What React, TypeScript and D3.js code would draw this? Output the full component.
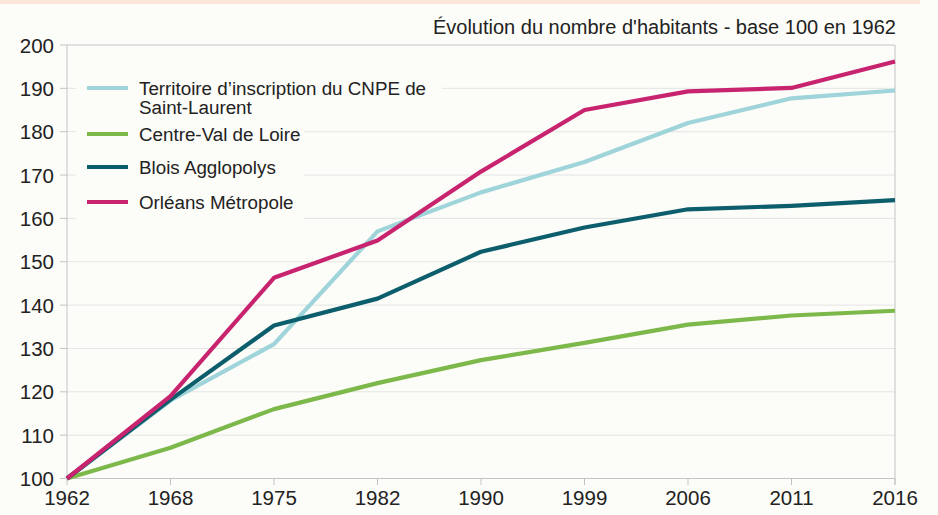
import React from 'react';
import * as d3 from 'd3';

const years = ['1962', '1968', '1975', '1982', '1990', '1999', '2006', '2011', '2016'];
const yTicks = [100, 110, 120, 130, 140, 150, 160, 170, 180, 190, 200];

const territoire = [100, 118, 131, 157, 166, 173, 182, 187.7, 189.5];
const centre = [100, 107.1, 116, 122, 127.3, 131.3, 135.5, 137.6, 138.7];
const blois = [100, 118.2, 135.3, 141.5, 152.3, 157.9, 162.1, 162.9, 164.2];
const orleans = [100, 119, 146.3, 154.9, 170.8, 185, 189.3, 190.1, 196.2];

const seriesNames = [
  'Territoire d\u2019inscription du CNPE de|Saint-Laurent',
  'Centre-Val de Loire',
  'Blois Agglopolys',
  'Orl\u00e9ans M\u00e9tropole',
];
const seriesColors = ['#9ed4da', '#7db84b', '#0d5e6c', '#c8236f'];

const W = 938, H = 515;
const bg = '#fcfcf8';
const font = '"Liberation Sans", Arial, sans-serif';

export default function App() {
  const x = d3.scalePoint().domain(years).range([67, 895]);
  const y = d3.scaleLinear().domain([100, 200]).range([478.5, 45]);
  const line = d3.line<number>()
    .x((_, i) => x(years[i]) as number)
    .y(d => y(d));

  const series = [territoire, centre, blois, orleans];
  const legendY = [88, 134, 167, 202];

  return (
    <svg width={W} height={H} style={{ position: 'absolute', left: 0, top: 0, background: bg }}
      fontFamily={font}>
      <rect x={0} y={0} width={920} height={4} fill="#fbe6d8" />

      {/* grid */}
      {yTicks.map(t => (
        <line key={t} x1={67} x2={895} y1={y(t)} y2={y(t)}
          stroke={t === 100 || t === 200 ? '#c4c4c4' : '#e4e4e4'} strokeWidth={1} />
      ))}
      <line x1={67} x2={67} y1={45} y2={478.5} stroke="#c4c4c4" />
      <line x1={895} x2={895} y1={45} y2={485} stroke="#c4c4c4" />
      {years.map(yr => (
        <line key={yr} x1={x(yr)} x2={x(yr)} y1={478.5} y2={485} stroke="#c4c4c4" />
      ))}
      {yTicks.map(t => (
        <line key={'t' + t} x1={60} x2={67} y1={y(t)} y2={y(t)} stroke="#c4c4c4" />
      ))}

      {/* legend background */}
      <rect x={76} y={72} width={366} height={46} fill={bg} />
      <rect x={76} y={118} width={228} height={102} fill={bg} />

      {/* lines */}
      {series.map((s, i) => (
        <path key={i} d={line(s) || ''} fill="none" stroke={seriesColors[i]}
          strokeWidth={4.2} strokeLinejoin="round" />
      ))}

      {/* y labels */}
      {yTicks.map(t => (
        <text key={'l' + t} x={54} y={y(t) + 7.5} textAnchor="end" fontSize={20.5} fill="#222">{t}</text>
      ))}
      {years.map(yr => (
        <text key={'x' + yr} x={x(yr)} y={505} textAnchor="middle" fontSize={20.5} fill="#222">{yr}</text>
      ))}

      {/* legend */}
      {seriesNames.map((n, i) => (
        <g key={n}>
          <line x1={87} x2={128} y1={legendY[i]} y2={legendY[i]} stroke={seriesColors[i]} strokeWidth={4.2} />
          {n.split('|').map((part, j) => (
            <text key={j} x={139} y={legendY[i] + 6.5 + j * 19} fontSize={18.8} fill="#222">{part}</text>
          ))}
        </g>
      ))}

      <text x={896} y={34} textAnchor="end" fontSize={20} fill="#222">
        {'\u00c9volution du nombre d\'habitants - base 100 en 1962'}
      </text>
    </svg>
  );
}
